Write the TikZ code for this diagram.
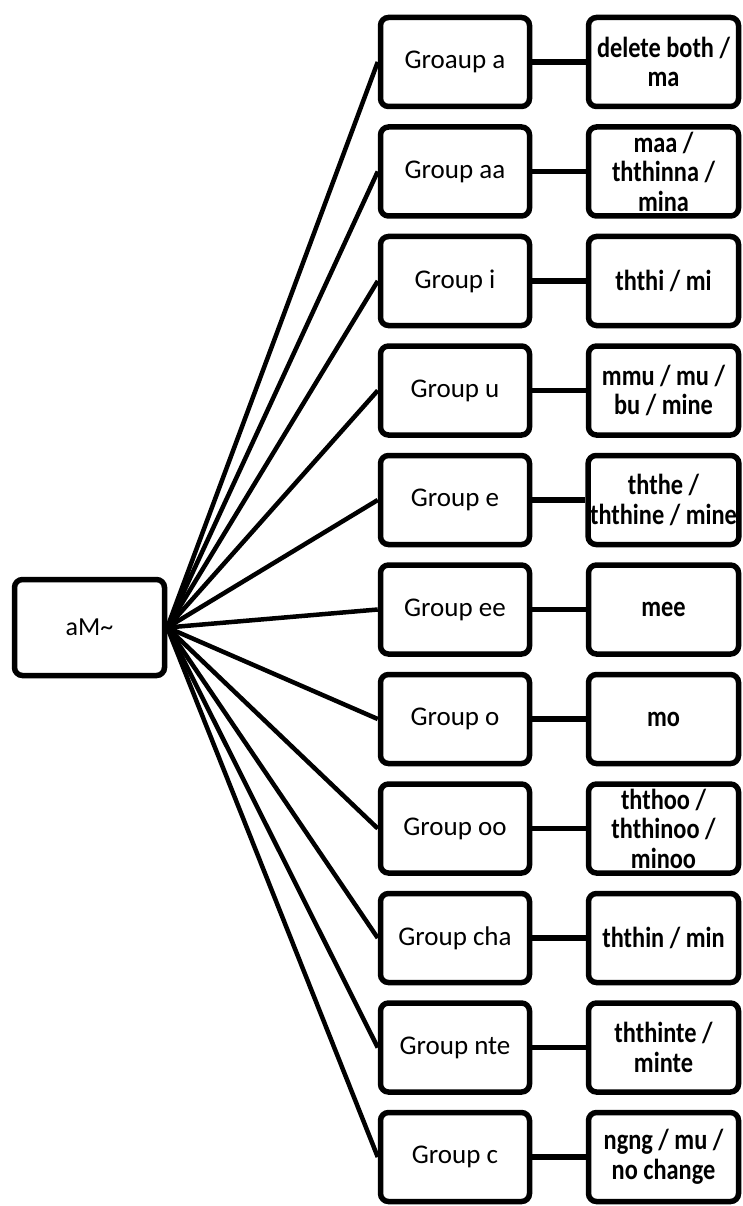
\documentclass[tikz,border=0pt]{standalone}
\usepackage{fontspec}
\setmainfont{Carlito}
\newfontfamily\resfont[FakeStretch=0.84]{Carlito Bold}
\begin{document}
\begin{tikzpicture}[x=1pt,y=-1pt,
  box/.style={draw=black, line width=5.5pt, rounded corners=8pt, fill=white,
    align=center, inner sep=2pt},
  rootbox/.style={box, minimum width=150pt, minimum height=96pt, font=\fontsize{26}{30}\selectfont},
  groupbox/.style={box, minimum width=149pt, minimum height=89pt, font=\fontsize{27}{30}\selectfont},
  resbox/.style={box, minimum width=150pt, minimum height=89pt, font=\resfont\fontsize{29}{29.5}\selectfont},
  fan/.style={line width=4.5pt},
  link/.style={line width=5.5pt}]
\useasboundingbox (0,0) rectangle (743,1206);
\fill[white] (0,0) rectangle (743,1206);

\node[rootbox] (root) at (89.5,627.5) {aM\textasciitilde};

\foreach \i/\g/\r in {
  0/{Groaup a}/{delete both /\\ ma},
  1/{Group aa}/{maa /\\ ththinna /\\ mina},
  2/{Group i}/{ththi / mi},
  3/{Group u}/{mmu / mu /\\ bu / mine},
  4/{Group e}/{ththe /\\ ththine / mine},
  5/{Group ee}/{mee},
  6/{Group o}/{mo},
  7/{Group oo}/{ththoo /\\ ththinoo /\\ minoo},
  8/{Group cha}/{ththin / min},
  9/{Group nte}/{ththinte /\\ minte},
  10/{Group c}/{ngng / mu /\\ no change}} {
  \pgfmathsetmacro{\yy}{62+\i*109.5}
  \node[groupbox] (g\i) at (455,\yy) {\g};
  \node[resbox] (r\i) at (663.5,\yy) {\r};
  \draw[link] (g\i.east) -- (r\i.west);
  \draw[fan] (root.east) -- (g\i.west);
}
\end{tikzpicture}
\end{document}
